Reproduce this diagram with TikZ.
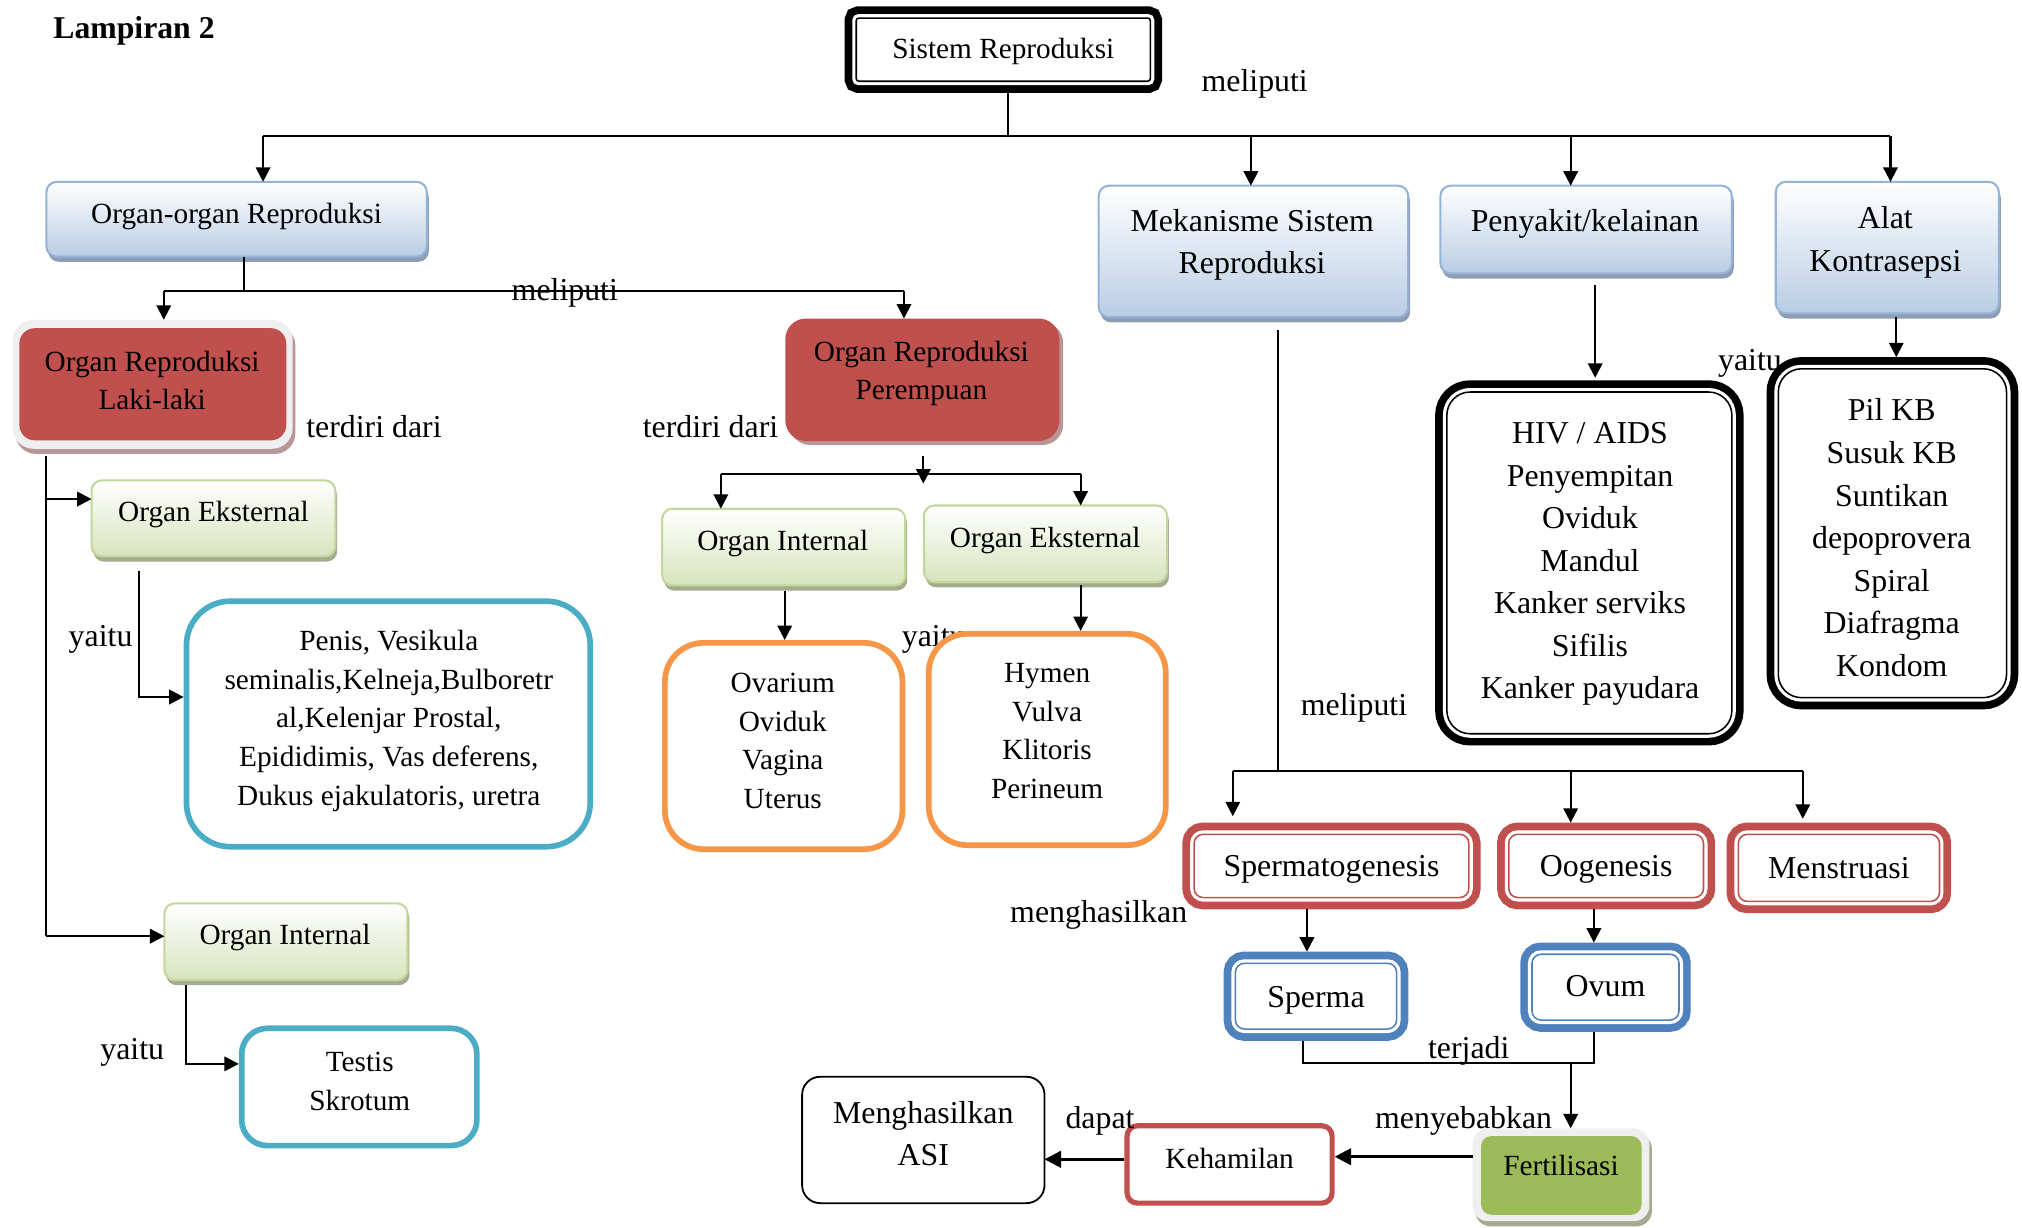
\documentclass[tikz,border=0pt]{standalone}
\usepackage{fontspec}
\setmainfont{Liberation Serif}
\usetikzlibrary{arrows.meta,fit}

\definecolor{redfill}{HTML}{C0504D}
\definecolor{blueline}{HTML}{4F81BD}
\definecolor{tealline}{HTML}{4BACC6}
\definecolor{orangeline}{HTML}{F79646}
\definecolor{greenfill}{HTML}{9BBB59}
\definecolor{bluebox}{HTML}{B9CDE5}
\definecolor{blueedge}{HTML}{95B3D7}
\definecolor{blueshadow}{HTML}{8E9DB3}
\definecolor{greenbox}{HTML}{D7E4BD}
\definecolor{greenedge}{HTML}{C3D69B}
\definecolor{greenshadow}{HTML}{A4AB8E}
\definecolor{framegrey}{HTML}{EFEFEF}
\definecolor{redshadow}{HTML}{B89696}

\tikzset{
  sm/.style={font=\fontsize{11.35}{15}\selectfont, align=center, inner sep=0pt},
  lg/.style={font=\fontsize{12.35}{16.5}\selectfont, align=center, inner sep=0pt},
  lbl/.style={lg, anchor=base},
  ln/.style={line width=0.8pt},
  arr/.style={ln, -{Triangle[length=5.6pt,width=5.6pt]}},
  arrm/.style={line width=0.9pt, -{Triangle[length=5.6pt,width=5.6pt]}},
  arrb/.style={line width=1.1pt, -{Triangle[length=6.4pt,width=6.4pt]}},
  boxbase/.style={rectangle, inner sep=0pt, outer sep=0pt},
  gradbox/.style n args={3}{boxbase, rounded corners=4pt, draw=#2, line width=0.8pt,
    top color=white, bottom color=#1,
    preaction={fill=#3, transform canvas={shift={(1.5,4)}}}},
  bluegrad/.style={gradbox={bluebox}{blueedge}{blueshadow}},
  greengrad/.style={gradbox={greenbox}{greenedge}{greenshadow}},
  triple/.style 2 args={boxbase, outer sep=4.5pt, fill=white, draw=#1, line width=0.6pt,
    rounded corners=#2,
    preaction={draw=#1, line width=9.1pt},
    preaction={draw=white, line width=3.1pt}},
  rbox/.style 2 args={boxbase, draw=#1, line width=2.2pt, outer sep=1.1pt, fill=white,
    rounded corners=#2},
  glowframe/.style={boxbase, fill=framegrey, rounded corners=8pt,
    preaction={fill=#1, transform canvas={shift={(2,4)}}}},
}

\begin{document}
\begin{tikzpicture}[x=0.5pt,y=-0.5pt]
\useasboundingbox (0,0) rectangle (1568,952);
\fill[white] (0,0) rectangle (1568,952);

\node[font=\bfseries\fontsize{12.3}{14}\selectfont, inner sep=0pt, anchor=base west]
  (title) at (41,29.5) {Lampiran 2};

% ---------- top level ----------
\node[triple={black}{1pt}, fit={(664,14) (892,63)}] (sistem) {};
\node[sm, anchor=base] (sistem-t) at (778,45.5) {Sistem Reproduksi};

\node[bluegrad, fit={(36,141) (331,199)}] (organ) {};
\node[sm, anchor=base] (organ-t) at (183.5,173.5) {Organ-organ Reproduksi};

\node[bluegrad, fit={(852,144) (1092,246)}] (mek) {};
\node[lg] (mek-t) at (971,190) {Mekanisme Sistem\\Reproduksi};

\node[bluegrad, fit={(1117,144) (1343,212)}] (peny) {};
\node[lg, anchor=base] (peny-t) at (1229,179.5) {Penyakit/kelainan};

\node[bluegrad, fit={(1377,141) (1550,243)}] (alat) {};
\node[lg] (alat-t) at (1462,188) {Alat\\Kontrasepsi};

% ---------- reproductive organs ----------
\node[glowframe=redshadow, fit={(10,248) (227,348)}] (lakiframe) {};
\node[boxbase, fill=redfill, rounded corners=6pt, fit={(15,254.5) (222,341.5)}] (laki) {};
\node[sm] (laki-t) at (118,295) {Organ Reproduksi\\Laki-laki};

\node[boxbase, fill=redfill, rounded corners=8pt,
      preaction={fill=redshadow, transform canvas={shift={(3,3)}}},
      fit={(609,247) (821.5,342)}] (perem) {};
\node[sm] (perem-t) at (714.5,289.5) {Organ Reproduksi\\Perempuan};

\node[greengrad, fit={(71,372.5) (260,431.5)}] (eks1) {};
\node[sm, anchor=base] (eks1-t) at (165.5,404.5) {Organ Eksternal};

\node[greengrad, fit={(127.5,700.5) (316,760)}] (int1) {};
\node[sm, anchor=base] (int1-t) at (221,732.5) {Organ Internal};

\node[greengrad, fit={(513.5,394.5) (702,454)}] (int2) {};
\node[sm, anchor=base] (int2-t) at (607,426.7) {Organ Internal};

\node[greengrad, fit={(716.5,392) (905,451.5)}] (eks2) {};
\node[sm, anchor=base] (eks2-t) at (810.5,424.7) {Organ Eksternal};

\node[rbox={tealline}{17pt}, fit={(144.6,466.2) (457.7,656.6)}] (penis) {};
\node[sm] (penis-t) at (301.5,559) {Penis, Vesikula\\seminalis,Kelneja,Bulboretr\\al,Kelenjar Prostal,\\Epididimis, Vas deferens,\\Dukus ejakulatoris, uretra};

\node[rbox={tealline}{10pt}, fit={(187.4,797.4) (369.8,888.4)}] (testis) {};
\node[sm] (testis-t) at (279,838.5) {Testis\\Skrotum};

\node[rbox={orangeline}{15pt}, fit={(515.6,498.5) (699.8,658.5)}] (ovar) {};
\node[sm] (ovar-t) at (607,574.5) {Ovarium\\Oviduk\\Vagina\\Uterus};

\node[lbl, anchor=base west] (l-yaitu3) at (699,501) {yaitu};
\node[rbox={orangeline}{15pt}, fit={(720.2,491.5) (904,655.4)}] (hymen) {};
\node[sm] (hymen-t) at (812,567) {Hymen\\Vulva\\Klitoris\\Perineum};

% ---------- diseases and contraception ----------
\node[triple={black}{9pt}, fit={(1122,304) (1343,569)}] (hiv) {};
\node[lg] (hiv-t) at (1233,437.5) {HIV / AIDS\\Penyempitan\\Oviduk\\Mandul\\Kanker serviks\\Sifilis\\Kanker payudara};

\node[triple={black}{9pt}, fit={(1379,286) (1556,541)}] (pil) {};
\node[lg] (pil-t) at (1467,417) {Pil KB\\Susuk KB\\Suntikan\\depoprovera\\Spiral\\Diafragma\\Kondom};

% ---------- mechanisms ----------
\node[triple={redfill}{3.5pt}, fit={(926,647) (1139,696)}] (sperm) {};
\node[lg, anchor=base] (sperm-t) at (1032.5,680) {Spermatogenesis};

\node[triple={redfill}{3.5pt}, fit={(1170,647) (1321,696)}] (oog) {};
\node[lg, anchor=base] (oog-t) at (1245.5,680) {Oogenesis};

\node[triple={redfill}{3.5pt}, fit={(1348,647) (1504,699)}] (menst) {};
\node[lg, anchor=base] (menst-t) at (1426,681) {Menstruasi};

\node[triple={blueline}{3.5pt}, fit={(958,747) (1083,798)}] (sperma) {};
\node[lg, anchor=base] (sperma-t) at (1020.5,781) {Sperma};

\node[triple={blueline}{3.5pt}, fit={(1188,740) (1302,791)}] (ovum) {};
\node[lg, anchor=base] (ovum-t) at (1245,773) {Ovum};

\node[glowframe=greenshadow, rounded corners=6pt, fit={(1142,875) (1279,947)}] (fertframe) {};
\node[boxbase, fill=greenfill, rounded corners=4pt, fit={(1148.5,881) (1273,942)}] (fert) {};
\node[sm, anchor=base] (fert-t) at (1210.5,911.5) {Fertilisasi};

\node[boxbase, draw=redfill, line width=2pt, outer sep=1pt, fill=white, rounded corners=4pt,
      fit={(874,873) (1033,933)}] (keh) {};
\node[sm, anchor=base] (keh-t) at (953.5,906.5) {Kehamilan};

\node[boxbase, draw=black, line width=0.7pt, fill=white, rounded corners=7pt,
      fit={(622,835) (810,933)}] (asi) {};
\node[lg] (asi-t) at (716,879) {Menghasilkan\\ASI};

% ---------- connector labels ----------
\node[lbl] (l-meliputi1) at (973,71) {meliputi};
\node[lbl] (l-terdiri1) at (290,339) {terdiri dari};
\node[lbl] (l-terdiri2) at (551,339) {terdiri dari};
\node[lbl] (l-yaitu1) at (78,501) {yaitu};
\node[lbl] (l-yaitu2) at (102.5,821.5) {yaitu};
\node[lbl] (l-yaitu4) at (1357,287) {yaitu};
\node[lbl] (l-meliputi3) at (1050,555) {meliputi};
\node[lbl] (l-menghasilkan) at (852,715) {menghasilkan};
\node[lbl] (l-terjadi) at (1139,821) {terjadi};
\node[lbl] (l-menyebabkan) at (1135,875) {menyebabkan};
\node[lbl] (l-dapat) at (853,875) {dapat};

% ---------- connectors ----------
\coordinate (jtop) at (782,105.5);
\coordinate (jA) at (204,105.5);
\coordinate (jB) at (970,105.5);
\coordinate (jC) at (1218,105.5);
\coordinate (jD) at (1466,105.5);
\draw[ln] (sistem.south -| jtop) -- (jtop);
\draw[ln] (jA) -- (jD);
\draw[arr] (jA) -- (organ.north -| jA);
\draw[arr] (jB) -- (mek.north -| jB);
\draw[arr] (jC) -- (peny.north -| jC);
\draw[arr] (jD) -- (alat.north -| jD);

\coordinate (jO) at (189,226);
\coordinate (jO1) at (127,226);
\coordinate (jO2) at (701,226);
\draw[ln] (organ.south -| jO) -- (jO);
\draw[ln] (jO1) -- (jO2);
\draw[arr] (jO1) -- (lakiframe.north -| jO1);
\draw[arr] (jO2) -- (perem.north -| jO2);
\node[lbl] (l-meliputi2) at (438,233) {meliputi};

\coordinate (lt1) at (36,387);
\coordinate (lt2) at (36,726);
\draw[ln, shorten <=3pt] (lakiframe.south -| lt1) -- (lt2);
\draw[arrm] (lt1) -- (eks1.west |- lt1);
\draw[arrm] (lt2) -- (int1.west |- lt2);

\coordinate (e1) at (108,540.5);
\draw[arrm, shorten <=5.5pt] (eks1.south -| e1) -- (e1) -- (penis.west |- e1);
\coordinate (i1) at (144,825);
\draw[arrm, shorten <=2pt] (int1.south -| i1) -- (i1) -- (testis.west |- i1);

\coordinate (pm) at (716,367.7);
\coordinate (pmtip) at (716,375);
\coordinate (pm1) at (559,367.7);
\coordinate (pm2) at (838,367.7);
\draw[ln] (pm1) -- (pm2);
\draw[arr, shorten <=6pt] (perem.south -| pm) -- (pmtip);
\draw[arr] (pm1) -- (int2.north -| pm1);
\draw[arr] (pm2) -- (eks2.north -| pm2);

\coordinate (io) at (608.5,0);
\draw[arr, shorten <=2pt] (int2.south -| io) -- (ovar.north -| io);
\draw[arr, shorten <=1pt] (eks2.south -| pm2) -- (hymen.north -| pm2);

\coordinate (mk) at (991,598);
\coordinate (mk1) at (956,598);
\coordinate (mk2) at (1218,598);
\coordinate (mk3) at (1398,598);
\draw[ln, shorten <=5pt] (mek.south -| mk) -- (mk);
\draw[ln] (mk1) -- (mk3);
\draw[arr, shorten >=2.5pt] (mk1) -- (sperm.north -| mk1);
\draw[arr] (mk2) -- (oog.north -| mk2);
\draw[arr, shorten >=1.5pt] (mk3) -- (menst.north -| mk3);

\coordinate (ph) at (1237,0);
\draw[arr, shorten <=4.5pt, shorten >=1pt] (peny.south -| ph) -- (hiv.north -| ph);
\coordinate (ap) at (1470.5,0);
\draw[arr, shorten <=1.5pt] (alat.south -| ap) -- (pil.north -| ap);

\coordinate (ss) at (1013.5,0);
\draw[arr] (sperm.south -| ss) -- (sperma.north -| ss);
\coordinate (oo) at (1236,0);
\draw[arr] (oog.south -| oo) -- (ovum.north -| oo);

\coordinate (sj1) at (1010.5,824.5);
\coordinate (sj2) at (1236,824.5);
\coordinate (fj) at (1218,824.5);
\draw[ln] (sperma.south -| sj1) -- (sj1) -- (sj2) -- (ovum.south -| sj2);
\draw[arr] (fj) -- (fertframe.north -| fj);

\coordinate (fk) at (0,897);
\draw[arrb] (fertframe.west |- fk) -- (keh.east |- fk);
\coordinate (ka) at (0,899);
\draw[arrb] (keh.west |- ka) -- (asi.east |- ka);
\end{tikzpicture}
\end{document}
